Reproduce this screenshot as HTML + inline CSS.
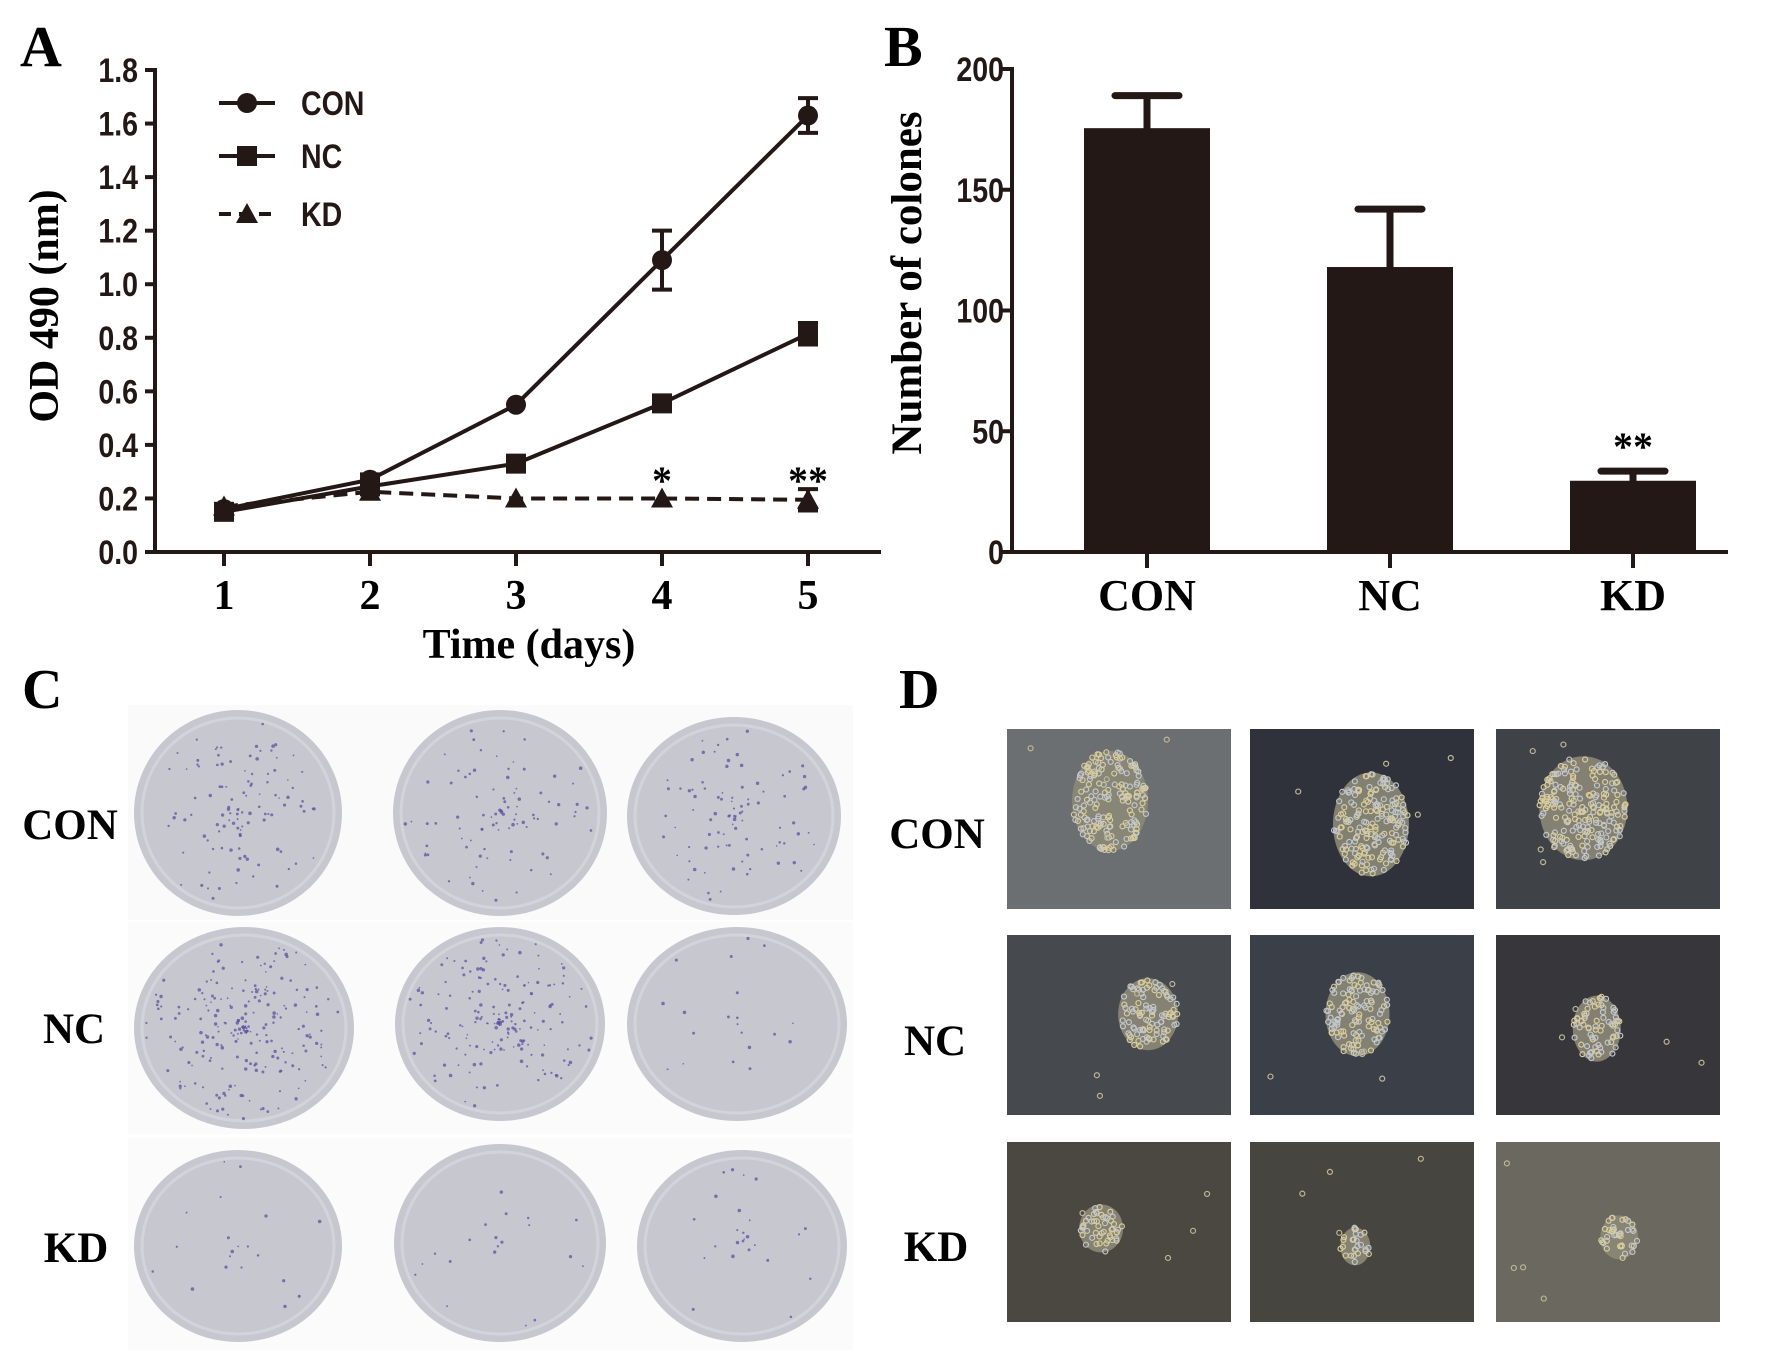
<!DOCTYPE html>
<html><head><meta charset="utf-8">
<style>
html,body{margin:0;padding:0;background:#fff;}
svg{display:block;}
.tk{font-family:"Liberation Sans Narrow","Liberation Sans",sans-serif;font-weight:bold;font-size:34px;fill:#231815;}
.sf{font-family:"Liberation Serif",serif;font-weight:bold;fill:#000;}
</style></head>
<body>
<svg id="fig" width="1772" height="1363" viewBox="0 0 1772 1363" xmlns="http://www.w3.org/2000/svg">
<g id="pA"></g>
<g id="pB"></g>
<g id="pC"></g>
<g id="pD"></g>
</svg>
<script>
// ---- Panel A data ----
const daysA = [1, 2, 3, 4, 5];
const conVals = [0.16, 0.27, 0.55, 1.09, 1.63];
const conErr = [0.01, 0.02, 0.01, 0.11, 0.065];
const ncVals = [0.15, 0.245, 0.33, 0.555, 0.815];
const ncErr = [0.01, 0.01, 0.015, 0.015, 0.04];
const kdVals = [0.17, 0.225, 0.2, 0.2, 0.195];
const kdErr = [0.005, 0.01, 0.01, 0.01, 0.04];
const yTicksA = ["0.0","0.2","0.4","0.6","0.8","1.0","1.2","1.4","1.6","1.8"];
// ---- Panel B data ----
const groupsB = ["CON", "NC", "KD"];
const colonyVals = [175.5, 118, 29.5];
const colonyErr = [13.5, 24, 4];
const yTicksB = ["0","50","100","150","200"];

const NS = "http://www.w3.org/2000/svg";
function mk(parent, tag, attrs, text){
  const e = document.createElementNS(NS, tag);
  for (const k in attrs) e.setAttribute(k, attrs[k]);
  if (text !== undefined) e.textContent = text;
  parent.appendChild(e);
  return e;
}
const C = "#231815";
function narrow(parent, x, y, txt, anchor, size){
  return mk(parent, 'text', {x: 0, y: 0, class: 'tk', 'font-size': size || 34, 'text-anchor': anchor || 'start', transform: `translate(${x},${y}) scale(0.84,1)`}, txt);
}

// ===== Panel A =====
const A = document.getElementById('pA');
const ax0 = 155, ay0 = 552, ayTop = 70;
const xA = d => 224 + (d - 1) * 146;
const yA = v => ay0 - (v / 1.8) * (ay0 - ayTop);
let t;
t = mk(A, 'text', {x: 20, y: 66, class: 'sf', 'font-size': 58}, 'A');


let e;
e = mk(A, 'line', {x1: ax0, y1: ayTop - 2, x2: ax0, y2: ay0 + 2, stroke: C, 'stroke-width': 4});


e = mk(A, 'line', {x1: ax0 - 2, y1: ay0, x2: 881, y2: ay0, stroke: C, 'stroke-width': 4});


yTicksA.forEach((lab) => {
  const v = parseFloat(lab);
  const y = yA(v);
  const l = mk(A, 'line', {x1: ax0 - 10, y1: y, x2: ax0, y2: y, stroke: C, 'stroke-width': 4});
  
  
  const tx = narrow(A, 138, y + 12, lab, 'end');
  
  
});
daysA.forEach(d => {
  const x = xA(d);
  const l = mk(A, 'line', {x1: x, y1: ay0, x2: x, y2: ay0 + 14, stroke: C, 'stroke-width': 4});
  
  
  const tx = mk(A, 'text', {x: x, y: 609, class: 'sf', 'font-size': 42, 'text-anchor': 'middle'}, String(d));
  
  
});
t = mk(A, 'text', {x: 529, y: 658, class: 'sf', 'font-size': 42, 'text-anchor': 'middle'}, 'Time (days)');


t = mk(A, 'text', {x: 0, y: 0, class: 'sf', 'font-size': 42, 'text-anchor': 'middle', transform: 'translate(58,306) rotate(-90)'}, 'OD 490 (nm)');



function marker(g, type, x, y){
  let m;
  if (type === 'circle') m = mk(g, 'circle', {cx: x, cy: y, r: 10, fill: C});
  else if (type === 'square') m = mk(g, 'rect', {x: x - 10, y: y - 10, width: 20, height: 20, fill: C});
  else m = mk(g, 'polygon', {points: `${x},${y-11} ${x+11},${y+9} ${x-11},${y+9}`, fill: C});
  return m;
}
function series(name, vals, errs, type, dash){
  const g = mk(A, 'g', {});
  
  
  const pts = vals.map((v, i) => `${xA(daysA[i])},${yA(v)}`).join(' ');
  const pl = mk(g, 'polyline', {points: pts, fill: 'none', stroke: C, 'stroke-width': 4, 'stroke-dasharray': dash ? '14 8' : 'none'});
  
  
  vals.forEach((v, i) => {
    const x = xA(daysA[i]);
    const hi = yA(v + errs[i]), lo = yA(v - errs[i]);
    if (errs[i] > 0.015) {
      const eb = mk(g, 'path', {d: `M${x},${hi}V${lo}M${x-10},${hi}H${x+10}M${x-10},${lo}H${x+10}`, stroke: C, 'stroke-width': 4, fill: 'none'});
      
      
    }
    const m = marker(g, type, x, yA(v));
    
    
  });
}
series('kd', kdVals, kdErr, 'tri', true);
series('nc', ncVals, ncErr, 'square', false);
series('con', conVals, conErr, 'circle', false);
t = mk(A, 'text', {x: xA(4), y: 494, class: 'sf', 'font-size': 40, 'font-weight': 'normal', 'text-anchor': 'middle'}, '*');


t = mk(A, 'text', {x: xA(5), y: 494, class: 'sf', 'font-size': 40, 'font-weight': 'normal', 'text-anchor': 'middle'}, '**');


// legend
const legend = [["CON","circle",false,103],["NC","square",false,156],["KD","tri",true,214]];
legend.forEach(([lab, type, dash, y]) => {
  const g = mk(A, 'g', {});
  
  
  mk(g, 'line', {x1: 219, y1: y, x2: 275, y2: y, stroke: C, 'stroke-width': 4, 'stroke-dasharray': dash ? '12 8' : 'none'});
  marker(g, type, 247, y);
  narrow(g, 301, y + 12, lab, 'start', 34);
});

// ===== Panel B =====
const B = document.getElementById('pB');
const bx0 = 1012, by0 = 552, byTop = 69;
const yB = v => by0 - (v / 200) * (by0 - byTop);
const xB = i => 1147 + i * 243;
const bw = 126;
t = mk(B, 'text', {x: 884, y: 66, class: 'sf', 'font-size': 58}, 'B');


e = mk(B, 'line', {x1: bx0, y1: byTop - 2, x2: bx0, y2: by0 + 2, stroke: C, 'stroke-width': 4});


yTicksB.forEach(lab => {
  const y = yB(parseFloat(lab));
  const l = mk(B, 'line', {x1: bx0 - 12, y1: y, x2: bx0, y2: y, stroke: C, 'stroke-width': 4});
  
  
  const tx = narrow(B, 1004, y + 12, lab, 'end');
  
  
});
groupsB.forEach((gname, i) => {
  const x = xB(i);
  const v = colonyVals[i], er = colonyErr[i];
  const eb = mk(B, 'path', {d: `M${x},${yB(v)}V${yB(v+er)}M${x-32},${yB(v+er)}H${x+32}`, stroke: C, 'stroke-width': 7, fill: 'none', 'stroke-linecap': 'round'});
  
  
  const r = mk(B, 'rect', {x: x - bw/2, y: yB(v), width: bw, height: by0 - yB(v), fill: C});
  
  
  const tk = mk(B, 'line', {x1: x, y1: by0, x2: x, y2: by0 + 16, stroke: C, 'stroke-width': 4});
  
  
  const tx = mk(B, 'text', {x: x, y: 610, class: 'sf', 'font-size': 44, 'text-anchor': 'middle'}, gname);
  
  
});
e = mk(B, 'line', {x1: bx0 - 12, y1: by0, x2: 1728, y2: by0, stroke: C, 'stroke-width': 4});


t = mk(B, 'text', {x: xB(2), y: 460, class: 'sf', 'font-size': 40, 'font-weight': 'normal', 'text-anchor': 'middle'}, '**');


t = mk(B, 'text', {x: 0, y: 0, class: 'sf', 'font-size': 43, 'text-anchor': 'middle', transform: 'translate(921,283) rotate(-90)'}, 'Number of colones');



// ===== seeded rng for decorative textures =====
let seed = 12345;
function rnd(){ seed = (seed * 1103515245 + 12345) & 0x7fffffff; return seed / 0x7fffffff; }

// ===== Panel C =====
const PC = document.getElementById('pC');
t = mk(PC, 'text', {x: 22, y: 708, class: 'sf', 'font-size': 56}, 'C');


[["CON",70,839],["NC",74,1043],["KD",76,1262]].forEach(([lab,x,y])=>{
  const tx = mk(PC, 'text', {x: x, y: y, class: 'sf', 'font-size': 43, 'text-anchor': 'middle'}, lab);
  
  
});
const dishes = [
  [238,813,104,103,110],[500,813,107,103,90],[734,816,107,99,90],
  [244,1028,110,101,220],[500,1024,105,97,180],[737,1024,110,97,20],
  [238,1246,104,96,20],[500,1243,106,99,20],[742,1246,105,96,25]
];
mk(PC,'rect',{x:128,y:705,width:725,height:215,fill:'#fafafb'});
mk(PC,'rect',{x:128,y:922,width:725,height:212,fill:'#fbfbfc'});
mk(PC,'rect',{x:128,y:1138,width:725,height:212,fill:'#fbfbfc'});
dishes.forEach(([cx,cy,rx,ry,n], i) => {
  const g = mk(PC, 'g', {});
  
  
  mk(g, 'ellipse', {cx, cy, rx, ry, fill: '#c7c7cf'});
  mk(g, 'ellipse', {cx, cy, rx: rx - 8, ry: ry - 8, fill: 'none', stroke: '#d3d3da', 'stroke-width': 3});
  for (let k = 0; k < n; k++) {
    const a = rnd() * 6.283, rr = Math.pow(rnd(), 0.9) * 0.9;
    mk(g, 'circle', {cx: cx + Math.cos(a) * rr * rx, cy: cy + Math.sin(a) * rr * ry, r: 0.8 + rnd() * 1.0, fill: '#5b52a0', opacity: 0.75});
  }
});

// ===== Panel D =====
const PD = document.getElementById('pD');
t = mk(PD, 'text', {x: 899, y: 708, class: 'sf', 'font-size': 56}, 'D');


[["CON",937,848],["NC",935,1055],["KD",936,1261]].forEach(([lab,x,y])=>{
  const tx = mk(PD, 'text', {x: x, y: y, class: 'sf', 'font-size': 43, 'text-anchor': 'middle'}, lab);
  
  
});
const colsX = [1007, 1250, 1496], rowsY = [729, 935, 1142];
const bg = ["#6b6f72","#2f323a","#3f4348","#46494d","#3b3f47","#37363b","#4b4741","#46453f","#6b695f"];
const col = [[.46,.40,38,50],[.54,.53,38,52],[.39,.44,44,52],[.63,.44,30,36],[.48,.44,32,42],[.45,.52,24,33],[.42,.48,22,24],[.47,.58,15,19],[.55,.53,19,22]];
rowsY.forEach((y, r) => colsX.forEach((x, c) => {
  const i = r * 3 + c;
  const g = mk(PD, 'g', {});
  
  
  mk(g, 'rect', {x, y, width: 224, height: 180, fill: bg[i]});
  const [fx, fy, rx, ry] = col[i];
  const cx = x + fx * 224, cy = y + fy * 180;
  mk(g, 'ellipse', {cx, cy, rx, ry, fill: '#8c8878', opacity: 0.9});
  const n = Math.round(rx * ry / 11);
  for (let k = 0; k < n; k++) {
    const a = rnd() * 6.283, rr = Math.sqrt(rnd());
    mk(g, 'circle', {cx: cx + Math.cos(a) * rr * rx, cy: cy + Math.sin(a) * rr * ry, r: 2.5, fill: 'none', stroke: rnd() > .5 ? '#d8cc9c' : '#c2c6ca', 'stroke-width': 1.2});
  }
  for (let k = 0; k < 4; k++) {
    mk(g, 'circle', {cx: x + 10 + rnd() * 204, cy: y + 10 + rnd() * 160, r: 2.5, fill: 'none', stroke: '#bdb698', 'stroke-width': 1.2});
  }
}));
</script>
</body></html>
